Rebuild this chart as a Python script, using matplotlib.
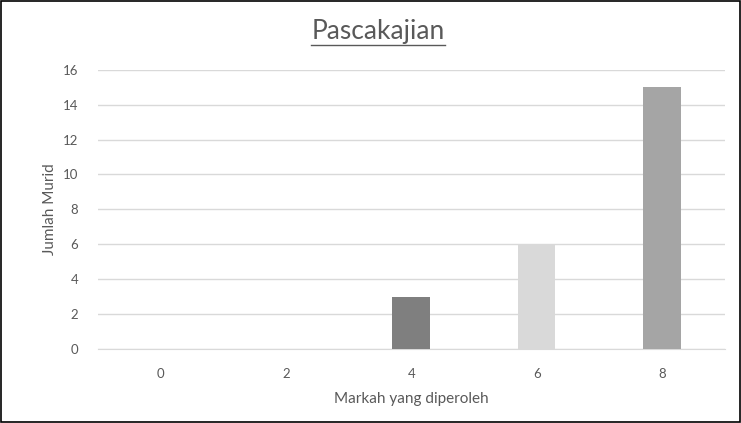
import matplotlib.pyplot as plt
from matplotlib.patches import Rectangle
from matplotlib.lines import Line2D

plt.rcParams['font.family'] = ['Lato', 'DejaVu Sans']

# Data
markah = ['0', '2', '4', '6', '8']
jumlah = [0, 0, 3, 6, 15]
warna = ['#7f7f7f', '#7f7f7f', '#7f7f7f', '#d9d9d9', '#a5a5a5']

fig = plt.figure(figsize=(7.41, 4.23), dpi=100)
ax = fig.add_axes([0.132, 0.175, 0.846, 0.66])

ax.bar(range(len(markah)), jumlah, width=0.3, color=warna, zorder=3)
ax.set_xlim(-0.5, len(markah) - 0.5)
ax.set_ylim(0, 16)
ax.set_yticks(range(0, 17, 2))
ax.set_xticks(range(len(markah)))
ax.set_xticklabels(markah)

ax.grid(axis='y', color='#d9d9d9', linewidth=1, zorder=0)
for s in ['top', 'right', 'left']:
    ax.spines[s].set_visible(False)
ax.spines['bottom'].set_color('#d9d9d9')
ax.tick_params(length=0, colors='#595959', labelsize=9.5)
ax.tick_params(axis='x', pad=14)
ax.tick_params(axis='y', pad=14)

ax.set_xlabel('Markah yang diperoleh', fontsize=11, color='#595959', labelpad=8)
ax.set_ylabel('Jumlah Murid', fontsize=11, color='#595959', labelpad=4)

# tajuk bergaris bawah
t = fig.text(0.51, 0.925, 'Pascakajian', ha='center', va='center',
             fontsize=19, color='#595959')
fig.canvas.draw()
bb = t.get_window_extent().transformed(fig.transFigure.inverted())
fig.add_artist(Line2D([bb.x0, bb.x1], [bb.y0 - 0.002, bb.y0 - 0.002],
                      color='#595959', linewidth=1, transform=fig.transFigure))

# bingkai
fig.add_artist(Rectangle((0.002, 0.003), 0.996, 0.994, fill=False,
                         edgecolor='black', linewidth=1.2,
                         transform=fig.transFigure))

fig.savefig('out.png', dpi=100)
